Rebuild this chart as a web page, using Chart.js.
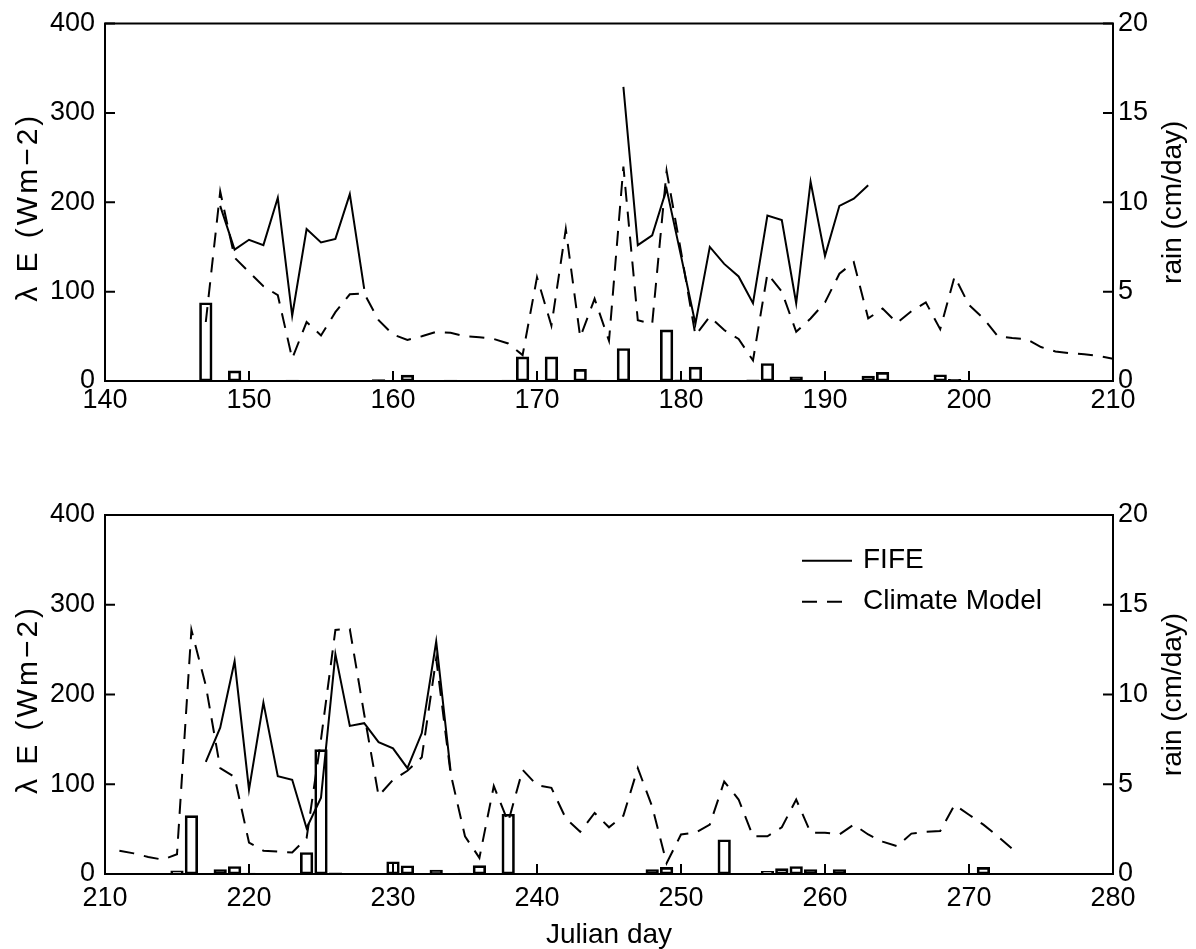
<!DOCTYPE html>
<html><head><meta charset="utf-8">
<script src="https://cdn.jsdelivr.net/npm/chart.js@4.4.0/dist/chart.umd.min.js"></script>
<style>
html,body{margin:0;padding:0;background:#fff;}
#wrap{position:relative;width:1196px;height:949px;overflow:hidden;background:#fff;}
canvas{position:absolute;left:0;}
</style></head><body>
<div id="wrap">
<canvas id="c1" width="1196" height="475" style="top:0"></canvas>
<canvas id="c2" width="1196" height="474" style="top:475px"></canvas>
</div>
<script>
// ---------- data ----------
const seriesNames = ['FIFE', 'Climate Model'];
const leftTitle = 'λ E (Wm−2)';
const rightTitle = 'rain (cm/day)';
const xTitle = 'Julian day';
const topRange = [140, 210];
const bottomRange = [210, 280];
const leRange = [0, 400];
const rainRange = [0, 20];

// top panel
const topFifeStart = 148;
const topFife = [196,147,158,152,205,73,170,155,159,209,103,
  null,null,null,null,null,null,null,null,null,null,null,null,null,null,null,null,null,
  329,152,163,215,140,64,150,131,117,87,185,180,87,223,140,196,204,219];
const topModelStart = 147;
const topModel = [66,212,138,122,106,96,25,66,51,77,97,98,68,52,46,50,55,54,50,49,47,42,29,
  116,62,170,49,92,45,240,68,64,235,145,51,72,57,47,23,120,100,55,70,88,120,133,70,81,65,78,
  88,58,117,85,70,50,48,47,38,33,31,30,28,25];
const topRainDays = [147,149,152,153,154,159,161,164,168,169,171,173,174,176,179,180,181,185,186,188,193,194,198,199];
const topRain = [4.38,0.57,0.03,0.05,0.03,0.08,0.33,0.05,0.05,1.35,1.35,0.65,0.05,1.82,2.86,0.07,0.78,0.07,0.98,0.24,0.28,0.48,0.35,0.1];

// bottom panel
const botFifeStart = 217;
const botFife = [125,163,237,94,191,109,105,51,85,245,165,168,147,140,118,157,259,115];
const botModelStart = 211;
const botModel = [26,23,19,16,22,272,210,118,108,35,26,25,24,40,150,272,273,178,87,105,115,130,240,112,
  42,18,98,58,116,99,96,62,47,68,52,65,118,75,12,44,46,55,103,83,42,42,52,83,46,46,44,55,44,36,31,45,
  47,48,77,66,55,42,28];
const botRainDays = [215,216,218,219,220,224,225,226,230,231,233,235,236,238,248,249,253,256,257,258,259,261,263,264,271];
const botRain = [0.18,3.25,0.24,0.42,0.05,1.2,6.93,0.06,0.68,0.46,0.22,0.05,0.47,3.33,0.24,0.37,1.91,0.15,0.3,0.42,0.24,0.24,0.03,0.03,0.37];

// ---------- helpers ----------
const FONT = "'Liberation Sans', Arial, Helvetica, sans-serif";
const seq = (start, vals) => vals.map((v, i) => ({x: start + i, y: v}));
const pairs = (days, vals) => days.map((d, i) => ({x: d, y: vals[i]}));

const framePlugin = {
  id: 'frame',
  afterDraw(chart, args, opts) {
    const {ctx, chartArea: a, scales} = chart;
    ctx.save();
    ctx.strokeStyle = '#000';
    ctx.lineWidth = 2;
    ctx.strokeRect(a.left, a.top, a.right - a.left, a.bottom - a.top);
    const L = 10;
    ctx.beginPath();
    scales.x.ticks.forEach(t => {
      const p = scales.x.getPixelForValue(t.value);
      ctx.moveTo(p, a.bottom); ctx.lineTo(p, a.bottom - L);
    });
    scales.y.ticks.forEach(t => {
      const p = scales.y.getPixelForValue(t.value);
      ctx.moveTo(a.left, p); ctx.lineTo(a.left + L, p);
    });
    scales.y1.ticks.forEach(t => {
      const p = scales.y1.getPixelForValue(t.value);
      ctx.moveTo(a.right, p); ctx.lineTo(a.right - L, p);
    });
    ctx.stroke();

    ctx.fillStyle = '#000';
    ctx.textAlign = 'center';
    ctx.textBaseline = 'middle';
    const cy = (a.top + a.bottom) / 2;
    // left title
    ctx.save();
    ctx.translate(29, cy + 5);
    ctx.rotate(-Math.PI / 2);
    ctx.font = '30px ' + FONT;
    if ('letterSpacing' in ctx) ctx.letterSpacing = '3px';
    ctx.fillText(leftTitle, 0, 0);
    ctx.restore();
    // right title
    ctx.save();
    ctx.translate(1173, cy);
    ctx.rotate(-Math.PI / 2);
    ctx.font = '28px ' + FONT;
    ctx.fillText(rightTitle, 0, 0);
    ctx.restore();

    if (opts.legend) {
      const ds = chart.data.datasets;
      ctx.font = '28px ' + FONT;
      ctx.textAlign = 'left';
      const rows = [85.7, 126.7];
      [0, 1].forEach(i => {
        const y = rows[i];
        ctx.beginPath();
        ctx.setLineDash(ds[i].borderDash || []);
        ctx.moveTo(802, y); ctx.lineTo(852, y);
        ctx.stroke();
        ctx.setLineDash([]);
        ctx.fillText(ds[i].label, 863, y);
      });
    }
    ctx.restore();
  }
};

function panel(id, cfg) {
  const tickFont = {family: FONT, size: 27, lineHeight: 1};
  return new Chart(document.getElementById(id), {
    type: 'line',
    data: {
      datasets: [
        {type: 'line', label: seriesNames[0], data: cfg.fife, yAxisID: 'y', borderColor: '#000',
         borderWidth: 2, pointRadius: 0, tension: 0, spanGaps: false, order: 1},
        {type: 'line', label: seriesNames[1], data: cfg.model, yAxisID: 'y', borderColor: '#000',
         borderWidth: 2, borderDash: [15, 10], pointRadius: 0, tension: 0, order: 2},
        {type: 'bar', label: 'rain', data: cfg.rain, yAxisID: 'y1', backgroundColor: 'rgba(0,0,0,0)',
         borderColor: '#000', borderWidth: 2, borderSkipped: false, barThickness: 12.6, order: 3}
      ]
    },
    options: {
      responsive: false, animation: false, events: [],
      layout: {padding: {top: cfg.top, left: 0, right: 0, bottom: 0}},
      plugins: {legend: {display: false}, tooltip: {enabled: false}, frame: {legend: cfg.legend}},
      scales: {
        x: {type: 'linear', min: cfg.range[0], max: cfg.range[1], offset: false,
            ticks: {stepSize: 10, autoSkip: false, maxRotation: 0, padding: cfg.xPad, color: '#000', font: tickFont},
            grid: {display: false, drawTicks: false}, border: {display: false},
            title: {display: cfg.showXTitle, text: xTitle, color: '#000',
                    font: {family: FONT, size: 28, lineHeight: 1}, padding: {top: 0, bottom: 0}},
            afterFit(s) { s.height = cfg.xH; }},
        y: {type: 'linear', position: 'left', min: leRange[0], max: leRange[1],
            ticks: {stepSize: 100, padding: 10, color: '#000', font: tickFont},
            grid: {display: false, drawTicks: false}, border: {display: false},
            afterFit(s) { s.width = 105; }},
        y1: {type: 'linear', position: 'right', min: rainRange[0], max: rainRange[1],
            ticks: {stepSize: 5, padding: 5, color: '#000', font: tickFont},
            grid: {display: false, drawTicks: false}, border: {display: false},
            afterFit(s) { s.width = 83; }}
      }
    },
    plugins: [framePlugin]
  });
}

panel('c1', {
  range: topRange, top: 21, xH: 94, xPad: 6, showXTitle: false, legend: false,
  fife: seq(topFifeStart, topFife), model: seq(topModelStart, topModel), rain: pairs(topRainDays, topRain)
});
panel('c2', {
  range: bottomRange, top: 40, xH: 75, xPad: 11, showXTitle: true, legend: true,
  fife: seq(botFifeStart, botFife), model: seq(botModelStart, botModel), rain: pairs(botRainDays, botRain)
});
</script>
</body></html>
